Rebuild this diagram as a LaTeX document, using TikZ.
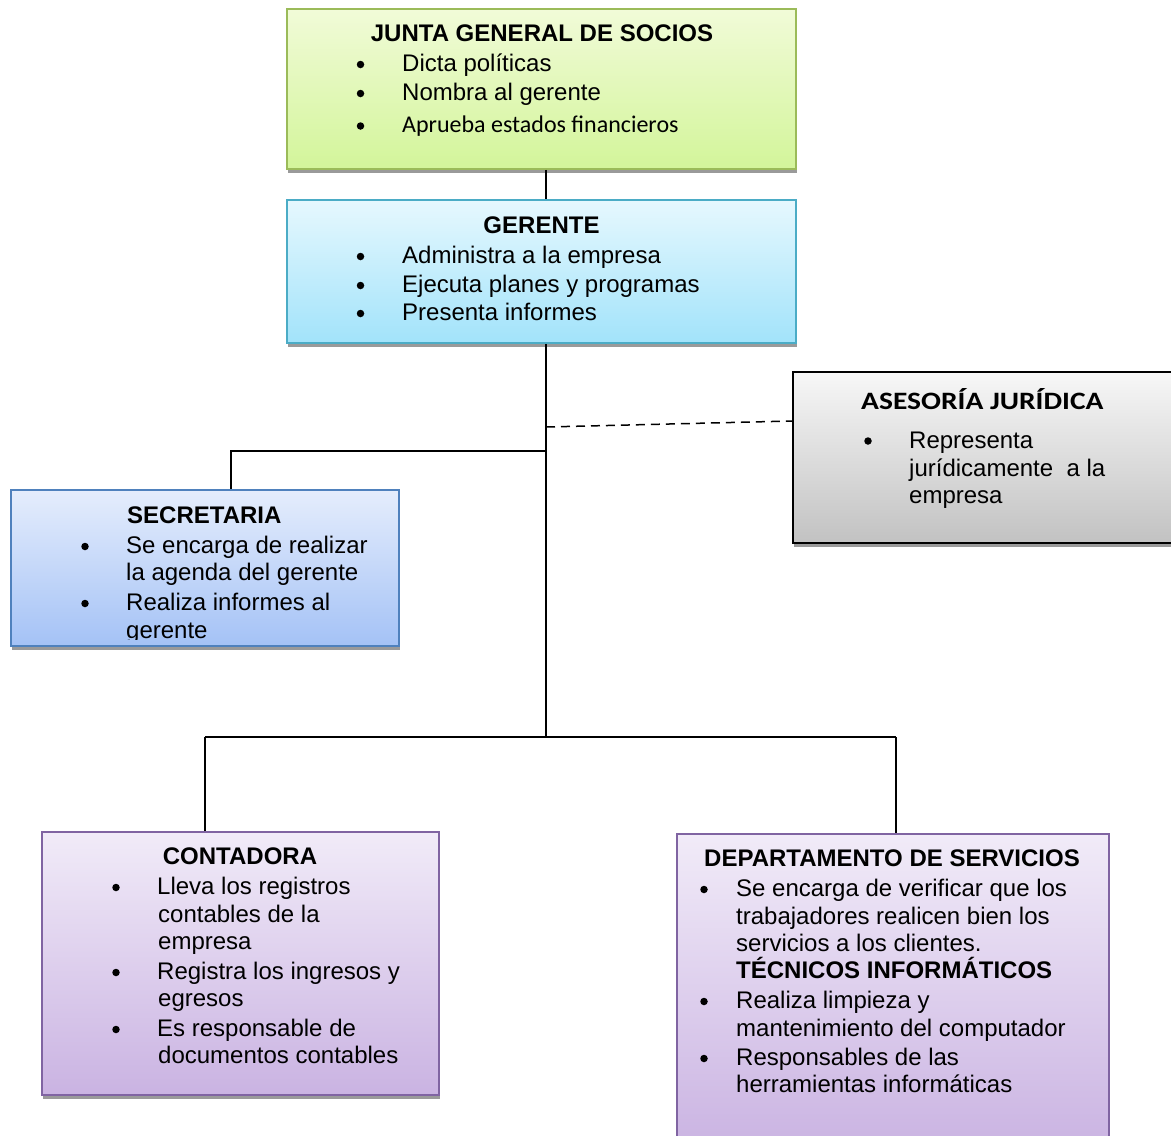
\documentclass[tikz,border=0pt]{standalone}
\usepackage{fontspec}
\setmainfont{Liberation Sans}
\newfontfamily\calibri{Carlito}
\usetikzlibrary{shadows}
\definecolor{jTop}{HTML}{F1FBD8}
\definecolor{jBot}{HTML}{D3F59A}
\definecolor{jLine}{HTML}{9BBB59}
\definecolor{gTop}{HTML}{E6F8FE}
\definecolor{gBot}{HTML}{A2E3FA}
\definecolor{gLine}{HTML}{4BACC6}
\definecolor{aTop}{HTML}{F7F7F7}
\definecolor{aBot}{HTML}{C2C2C2}
\definecolor{sTop}{HTML}{E5EDFC}
\definecolor{sBot}{HTML}{A4C2F6}
\definecolor{sLine}{HTML}{4F81BD}
\definecolor{pTop}{HTML}{F1EBF8}
\definecolor{pBot}{HTML}{CAB3E2}
\definecolor{pLine}{HTML}{8064A2}
\definecolor{shadowgray}{HTML}{9A9A9A}
\tikzset{
  x=1pt, y=-1pt,
  box/.style={rectangle, draw, line width=1.5pt, inner sep=0pt,
    drop shadow={shadow xshift=1pt, shadow yshift=-4pt, fill=shadowgray, opacity=1}},
  txt/.style={anchor=base west, inner sep=0pt, font=\fontsize{24}{28}\selectfont},
  ttl/.style={anchor=base, inner sep=0pt, font=\fontsize{24}{28}\selectfont\bfseries},
  ttlw/.style={anchor=base west, inner sep=0pt, font=\fontsize{24}{28}\selectfont\bfseries},
  dot/.style={circle, fill=black, inner sep=0pt, minimum size=7.5pt},
  conn/.style={line width=1.3pt, black},
  dashconn/.style={line width=1.5pt, black, dash pattern=on 9pt off 6pt},
}
\begin{document}
\begin{tikzpicture}
\useasboundingbox (0,0) rectangle (1171,1136);
\fill[white] (0,0) rectangle (1171,1136);

% boxes
\node[box, draw=jLine, top color=jTop, bottom color=jBot, minimum width=509pt, minimum height=160pt] (junta) at (541.5,89) {};
\node[box, draw=gLine, top color=gTop, bottom color=gBot, minimum width=509pt, minimum height=143pt] (gerente) at (541.5,271.5) {};
\node[box, draw=black, top color=aTop, bottom color=aBot, minimum width=392pt, minimum height=171pt] (asesoria) at (989,457.5) {};
\node[box, draw=sLine, top color=sTop, bottom color=sBot, minimum width=388pt, minimum height=156pt] (secretaria) at (205,568) {};
\node[box, draw=pLine, top color=pTop, bottom color=pBot, minimum width=397pt, minimum height=263pt] (contadora) at (240.5,963.5) {};
\node[box, draw=pLine, top color=pTop, bottom color=pBot, minimum width=432pt, minimum height=316pt] (depto) at (893,992) {};

% connectors
\coordinate (spine) at (546,0);
\coordinate (secj) at (546,451);
\coordinate (secx) at (231,451);
\coordinate (dj) at (546,427);
\coordinate (hub) at (546,737);
\coordinate (cl) at (205,737);
\coordinate (cr) at (896,737);
\draw[conn] (junta.south -| spine) -- (gerente.north -| spine);
\draw[conn] (gerente.south -| spine) -- (hub);
\draw[conn] (secj) -- (secx) -- (secretaria.north -| secx);
\draw[dashconn] (dj) -- ([yshift=36.5pt]asesoria.west);
\draw[conn] (cl) -- (cr);
\draw[conn] (cl) -- (contadora.north -| cl);
\draw[conn] (cr) -- (depto.north -| cr);

% JUNTA
\node[ttl] (jt) at (542,41) {JUNTA GENERAL DE SOCIOS};
\node[dot] (jb1) at (360.5,64.5) {};
\node[txt] (j1) at (402,71) {Dicta políticas};
\node[dot] (jb2) at (360.5,93.5) {};
\node[txt] (j2) at (402,100) {Nombra al gerente};
\node[dot] (jb3) at (360.5,126) {};
\node[txt, font=\calibri\fontsize{24}{28}\selectfont] (j3) at (402,132.5) {Aprueba estados financieros};

% GERENTE
\node[ttl] (gt) at (541.5,233) {GERENTE};
\node[dot] (gb1) at (360.5,256.5) {};
\node[txt] (g1) at (402,263) {Administra a la empresa};
\node[dot] (gb2) at (360.5,285.5) {};
\node[txt] (g2) at (402,292) {Ejecuta planes y programas};
\node[dot] (gb3) at (360.5,313.5) {};
\node[txt] (g3) at (402,320) {Presenta informes};

% ASESORIA
\node[ttlw, font=\calibri\bfseries\fontsize{25}{28}\selectfont] (at) at (861,409) {\scalebox{1.18}[1]{ASESORÍA JURÍDICA}};
\node[dot] (ab1) at (868,441) {};
\node[txt] (a1) at (909,448) {Representa};
\node[txt] (a2) at (909,476) {jurídicamente\ \ a la};
\node[txt] (a3) at (909,503) {empresa};

% SECRETARIA
\begin{scope}
\clip (11,490) rectangle (399,639.5);
\node[ttlw] (st) at (127,523) {SECRETARIA};
\node[dot] (sb1) at (85,546.5) {};
\node[txt] (s1) at (126,553) {Se encarga de realizar};
\node[txt] (s2) at (126,580) {la agenda del gerente};
\node[dot] (sb2) at (85,603.5) {};
\node[txt] (s3) at (126,610) {Realiza informes al};
\node[txt] (s4) at (126,638) {gerente};
\end{scope}

% CONTADORA
\node[ttl] (ct) at (240,864) {CONTADORA};
\node[dot] (cb1) at (116,887.5) {};
\node[txt] (c1) at (157,894) {Lleva los registros};
\node[txt] (c2) at (158,922) {contables de la};
\node[txt] (c3) at (158,949) {empresa};
\node[dot] (cb2) at (116,972.5) {};
\node[txt] (c4) at (157,979) {Registra los ingresos y};
\node[txt] (c5) at (158,1006) {egresos};
\node[dot] (cb3) at (116,1029.5) {};
\node[txt] (c6) at (157,1036) {Es responsable de};
\node[txt] (c7) at (158,1063) {documentos contables};

% DEPARTAMENTO
\node[ttlw] (dt) at (704,866) {DEPARTAMENTO DE SERVICIOS};
\node[dot] (db1) at (704,889.5) {};
\node[txt] (d1) at (736,896) {Se encarga de verificar que los};
\node[txt] (d2) at (736,924) {trabajadores realicen bien los};
\node[txt] (d3) at (736,951) {servicios a los clientes.};
\node[ttlw] (d4) at (736,978) {TÉCNICOS INFORMÁTICOS};
\node[dot] (db2) at (704,1001.5) {};
\node[txt] (d5) at (736,1008) {Realiza limpieza y};
\node[txt] (d6) at (736,1036) {mantenimiento del computador};
\node[dot] (db3) at (704,1058.5) {};
\node[txt] (d7) at (736,1065) {Responsables de las};
\node[txt] (d8) at (736,1092) {herramientas informáticas};
\end{tikzpicture}
\end{document}
